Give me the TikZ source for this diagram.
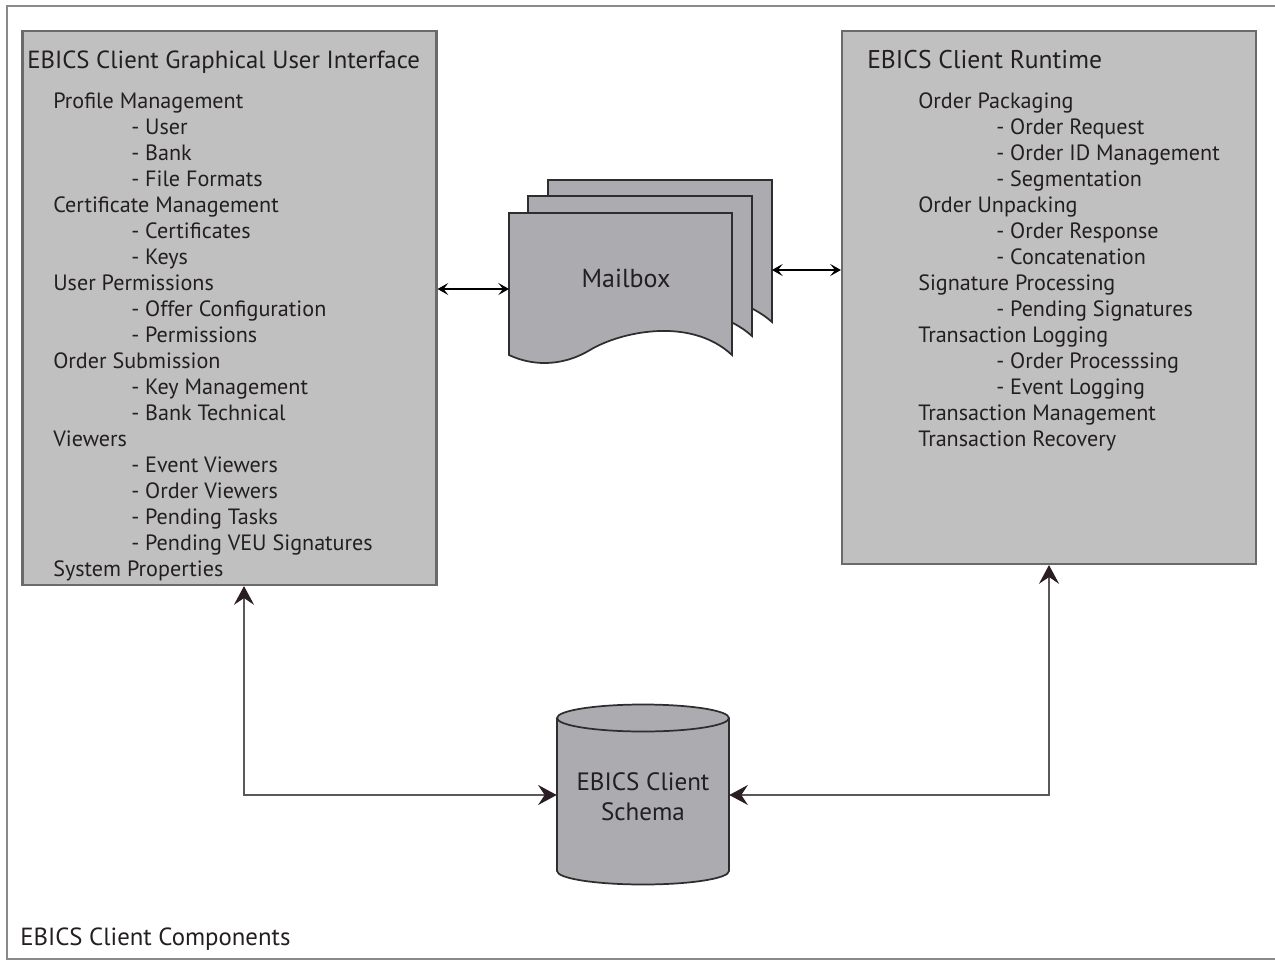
\documentclass[tikz,border=0pt]{standalone}
\usepackage{fontspec}
\setmainfont{PT Sans}
\usetikzlibrary{arrows.meta,calc}
\definecolor{txt}{HTML}{231F20}
\definecolor{boxfill}{HTML}{C0C0C0}
\definecolor{boxline}{HTML}{6A6A6A}
\definecolor{mailfill}{HTML}{ABABB0}
\definecolor{mailline}{HTML}{2E2E30}
\definecolor{tipcol}{HTML}{2B1D24}
\definecolor{frame}{HTML}{8A8A8A}
\tikzset{
  panel/.style={draw=boxline, fill=boxfill, line width=1.6pt, inner sep=0pt},
  lbl/.style={anchor=base west, inner sep=0pt, text=txt, font=\fontsize{16.6}{19}\selectfont},
  title/.style={lbl, font=\fontsize{18.6}{22}\selectfont},
  midlbl/.style={lbl, anchor=base, font=\fontsize{18.8}{22}\selectfont},
  sheet/.style={draw=mailline, fill=mailfill, line width=1.3pt},
  smallarr/.style={line width=1.1pt, {Stealth[length=8pt,width=9pt,inset=3.5pt]}-{Stealth[length=8pt,width=9pt,inset=3.5pt]}},
  bigarr/.style={draw=black!65, line width=1.1pt, {Stealth[length=14pt,width=15pt,inset=5pt,color=tipcol]}-{Stealth[length=14pt,width=15pt,inset=5pt,color=tipcol]}},
}
\begin{document}
\begin{tikzpicture}[x=0.75pt,y=-0.75pt]
\useasboundingbox (0,0) rectangle (1275,960);
% outer frame
\draw[frame, line width=1.6pt] (1275,6) -- (7,6) -- (7,959) -- (1275,959);

% panels
\node[panel, minimum width=310.5pt, minimum height=415.5pt] (gui) at (229.5,308) {};
\node[panel, minimum width=310.5pt, minimum height=399.75pt] (rt) at (1049,297.5) {};

% GUI texts
\node[title] (guiT) at (27,68) {EBICS Client Graphical User Interface};
\foreach \t/\x/\y [count=\i] in {
  Profile Management/53/108, - User/131/134, - Bank/131/160, - File Formats/131/186,
  Certificate Management/53/212, - Certificates/131/238, - Keys/131/264,
  User Permissions/53/290, - Offer Configuration/131/316, - Permissions/131/342,
  Order Submission/53/368, - Key Management/131/394, - Bank Technical/131/420,
  Viewers/53/446, - Event Viewers/131/472, - Order Viewers/131/498,
  - Pending Tasks/131/524, - Pending VEU Signatures/131/550, System Properties/53/576}
  \node[lbl] (g\i) at (\x,\y) {\t};

% Runtime texts
\node[title, font=\fontsize{19.2}{22}\selectfont] (rtT) at (867,68) {EBICS Client Runtime};
\foreach \t/\x/\y [count=\i] in {
  Order Packaging/918/108, - Order Request/996/134, - Order ID Management/996/160,
  - Segmentation/996/186, Order Unpacking/918/212, - Order Response/996/238,
  - Concatenation/996/264, Signature Processing/918/290, - Pending Signatures/996/316,
  Transaction Logging/918/342, - Order Processsing/996/368, - Event Logging/996/394,
  Transaction Management/918/420, Transaction Recovery/918/446}
  \node[lbl] (r\i) at (\x,\y) {\t};

% Mailbox: three stacked sheets
\draw[sheet] (548,180) -- (772,180) -- (772,322)
   .. controls (730,285) and (660,292) .. (630,312)
   .. controls (600,330) and (570,330) .. (548,322) -- cycle;
\draw[sheet] (528,196) -- (752,196) -- (752,336)
   .. controls (710,299) and (640,306) .. (610,326)
   .. controls (580,344) and (550,344) .. (528,336) -- cycle;
\draw[sheet] (509,213) -- (732,213) -- (732,355)
   .. controls (690,316) and (620,332) .. (590,350)
   .. controls (560,368) and (530,365) .. (509,355) -- cycle;
\node[midlbl, font=\fontsize{19.5}{22}\selectfont] (mail) at (626,287) {Mailbox};
\coordinate (mbL) at (509,289);
\coordinate (mbR) at (772,270);

% Database cylinder
\fill[mailfill] (557,718) -- (557,871) arc[start angle=180, end angle=0, x radius=86, y radius=13.5] -- (729,718) -- cycle;
\draw[mailline, line width=1.3pt] (557,718) -- (557,871) arc[start angle=180, end angle=0, x radius=86, y radius=13.5] -- (729,718);
\draw[mailline, line width=1.3pt, fill=mailfill] (643,718) ellipse [x radius=86, y radius=13.5];
\node[inner sep=0pt, minimum width=129pt, minimum height=135pt] (db) at (643,795) {};
\node[midlbl] (dbT1) at (643,790) {EBICS Client};
\node[midlbl] (dbT2) at (643,820) {Schema};

% connectors
\coordinate (gx) at (244,0);
\coordinate (rx) at (1049,0);
\draw[smallarr] (gui.east |- mbL) -- (mbL);
\draw[smallarr] (mbR) -- (rt.west |- mbR);
\draw[bigarr] (gui.south -| gx) |- (db.west);
\draw[bigarr] (rt.south -| rx) |- (db.east);

% footer
\node[title] (foot) at (20,945) {EBICS Client Components};
\end{tikzpicture}
\end{document}
